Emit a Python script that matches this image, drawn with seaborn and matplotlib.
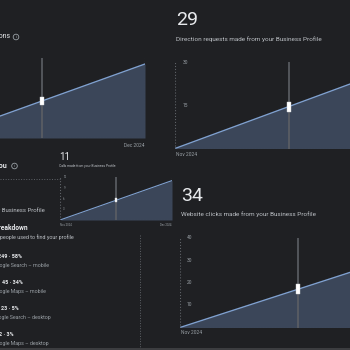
import matplotlib
matplotlib.use("Agg")
import matplotlib.pyplot as plt
import matplotlib.patches as mpatches
import seaborn as sns
import pandas as pd

# ---------------- data ----------------
months = ["Nov 2024", "Dec 2024"]
interactions = [0, 74]
directions = [0, 29]
website_clicks = [0, 34]
calls = [0, 11]

directions_ticks = [15, 30]
website_ticks = [10, 20, 30, 40]
calls_ticks = [3, 6, 9, 12]

breakdown_values = ["249 · 58%", "45 · 34%", "23 · 5%", "2 · 3%"]
breakdown_labels = ["Google Search – mobile", "Google Maps – mobile",
                    "Google Search – desktop", "Google Maps – desktop"]

# ---------------- style ----------------
BG = "#1f2023"
FILL = "#3b4659"
LINE = "#7fa0cf"
GRID = "#5f6368"
WHITE = "#e8eaed"
GREY = "#bdc1c6"
DIM = "#9aa0a6"

sns.set_theme(style="dark")
plt.rcParams["font.family"] = ["Roboto", "DejaVu Sans"]

W = H = 350.0
fig = plt.figure(figsize=(3.5, 3.5), dpi=100, facecolor=BG)


def px_axes(x0, y_top, x1, y_bot):
    ax = fig.add_axes([x0 / W, 1 - y_bot / H, (x1 - x0) / W, (y_bot - y_top) / H])
    ax.set_facecolor("none")
    for s in ax.spines.values():
        s.set_visible(False)
    ax.set_xticks([])
    ax.set_yticks([])
    ax.grid(False)
    return ax


def ftext(x, y, s, size, color, ha="left", weight="normal"):
    fig.text(x / W, 1 - y / H, s, fontsize=size, color=color, ha=ha, va="center",
             fontweight=weight)


def info_icon(x, y, r=2.8):
    fig.add_artist(mpatches.Circle((x / W, 1 - y / H), r / W, transform=fig.transFigure,
                                   fill=False, ec=DIM, lw=0.6))
    fig.text(x / W, 1 - y / H, "i", fontsize=3.2, color=DIM, ha="center", va="center")


def trend_chart(ax, values, ymax, ticks=None, tick_x=0.04, tick_size=3.5,
                marker_h=10, show_left=True, lw=1.0):
    df = pd.DataFrame({"x": [0.0, 1.0], "v": values})
    ax.fill_between(df["x"], 0, df["v"], color=FILL, lw=0)
    sns.lineplot(data=df, x="x", y="v", ax=ax, color=LINE, lw=lw, legend=False)
    ax.set_xlim(0, 1)
    ax.set_ylim(0, ymax)
    ax.set_xlabel("")
    ax.set_ylabel("")
    ax.set_xticks([])
    ax.set_yticks([])
    ax.axhline(0, color=GRID, ls=":", lw=0.8)
    if show_left:
        ax.axvline(0, color=GRID, ls=":", lw=0.8, ymax=1)
    ax.axvline(1, color=GRID, ls=":", lw=0.8)
    # hover line + marker
    mid = (values[0] + values[1]) / 2
    ax.plot([0.5, 0.5], [0, ymax], color="#5c5f65", lw=1.2, zorder=3)
    ax.plot([0.5], [mid], marker=[(-1, -2.2), (1, -2.2), (1, 2.2), (-1, 2.2), (-1, -2.2)],
            ms=marker_h * 0.72, color="white", mec="#cfd2d6", mew=0.3, zorder=4)
    if ticks:
        for t in ticks:
            ax.text(tick_x, t, str(t), fontsize=tick_size, color=DIM, ha="left", va="center",
                    transform=ax.get_yaxis_transform())


# ---------------- top-left: interactions ----------------
ax1 = px_axes(-61, 58, 145, 138)
trend_chart(ax1, interactions, 80, marker_h=8, show_left=False)
ftext(10, 37, "Business Profile interactions", 5.0, WHITE, ha="right")
info_icon(16, 37)
ftext(145, 145, months[1], 3.5, DIM, ha="right")

# ---------------- top-right: directions ----------------
ftext(176, 20, "29", 14, WHITE)
ftext(176, 39, "Direction requests made from your Business Profile", 4.6, GREY)
ax2 = px_axes(175, 62, 402, 148.5)
trend_chart(ax2, directions, 30, ticks=directions_ticks, tick_x=0.035, tick_size=3.5)
ftext(176, 155, months[0], 3.5, DIM)

# ---------------- middle: calls (small) ----------------
ftext(59, 157, "11", 7, WHITE)
ftext(59, 166, "Calls made from your Business Profile", 2.4, GREY)
ax3 = px_axes(60, 177, 172, 220)
trend_chart(ax3, calls, 12, ticks=calls_ticks, tick_x=0.03, tick_size=2.0,
            marker_h=5, lw=0.8)
ftext(60, 225, months[0], 2.0, DIM)
ftext(172, 225, months[1], 2.0, DIM, ha="right")
fig.add_artist(plt.Line2D([0, 60 / W], [1 - 179 / H] * 2, transform=fig.transFigure,
                          color=GRID, ls=":", lw=0.7))

# ---------------- left: discovery ----------------
ftext(7, 166, "How people discovered you", 5.0, WHITE, ha="right", weight="bold")
info_icon(14.5, 166)
ftext(45, 210, "People viewed your Business Profile", 4.3, GREY, ha="right")
ftext(28, 228, "Platform and device breakdown", 4.8, WHITE, ha="right", weight="bold")
ftext(74, 237, "Platforms and devices people used to find your profile", 3.9, GREY, ha="right")

val_rows = [256, 282, 308, 334]
val_right = [22, 23, 19, 14]
lab_right = [49, 46, 51, 49]
for v, lab, y, vr, lr in zip(breakdown_values, breakdown_labels, val_rows, val_right, lab_right):
    ftext(vr, y, v, 3.9, WHITE, ha="right", weight="bold")
    ftext(lr, y + 9.5, lab, 3.8, DIM, ha="right")

fig.add_artist(plt.Line2D([140 / W] * 2, [1 - 235 / H, 1 - 348 / H], transform=fig.transFigure,
                          color=GRID, ls=":", lw=0.7))

# ---------------- bottom-right: website clicks ----------------
ftext(181, 196, "34", 14, WHITE)
ftext(181, 214, "Website clicks made from your Business Profile", 4.6, GREY)
ax4 = px_axes(180, 237.5, 416, 327.5)
trend_chart(ax4, website_clicks, 40, ticks=website_ticks, tick_x=0.03, tick_size=3.5)
ftext(181, 333, months[0], 3.5, DIM)

# bottom band
fig.add_artist(mpatches.Rectangle((0, 0), 1, 2 / H, transform=fig.transFigure,
                                  color="#3c3d40", lw=0))

fig.savefig("out.png", dpi=100, facecolor=BG)
